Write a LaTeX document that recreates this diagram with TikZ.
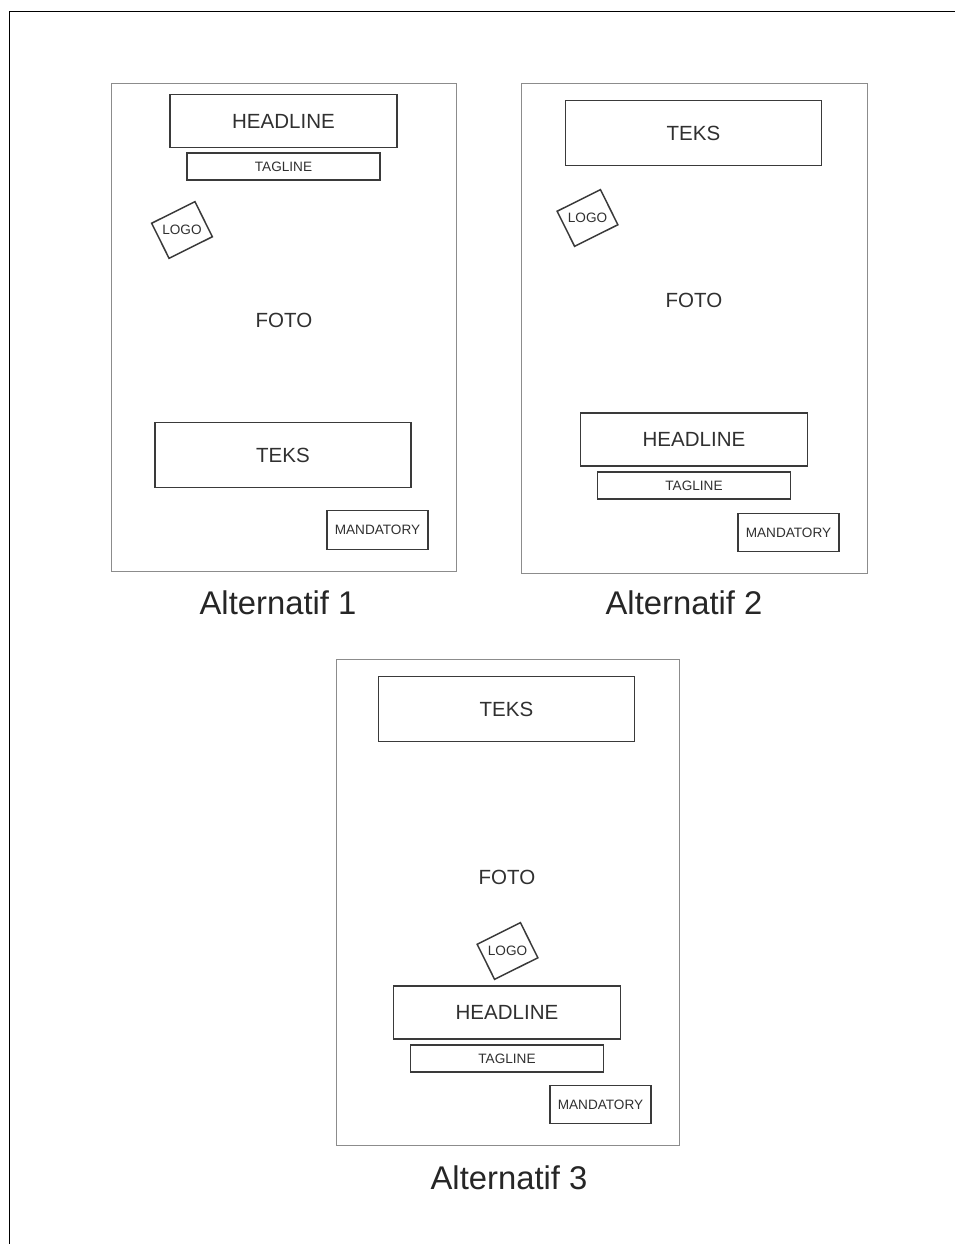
\documentclass[tikz,border=0pt]{standalone}
\usepackage{fontspec}
\setmainfont{Liberation Sans}
\definecolor{pagegray}{HTML}{8C8C8C}
\definecolor{boxgray}{HTML}{3A3A3A}
\definecolor{inkgray}{HTML}{303030}
\newcommand{\pxu}{0.75pt}

\begin{document}
\begin{tikzpicture}[x=\pxu,y=-\pxu,
        page/.style 2 args={draw=pagegray, line width=0.65pt, inner sep=0pt,
            minimum width={#1*\pxu}, minimum height={#2*\pxu}},
        slot/.style={draw=boxgray, line width=1.1pt, inner sep=0pt, text=inkgray},
        bigtext/.style={font=\fontsize{15.4}{17}\selectfont, text=inkgray},
        smalltext/.style={font=\fontsize{10.2}{12}\selectfont},
        headline/.style={slot, bigtext, minimum width={227*\pxu}, minimum height={53*\pxu}},
        tagline/.style={slot, smalltext, minimum width={193*\pxu}, minimum height={27*\pxu}},
        teks/.style={slot, bigtext, minimum width={256*\pxu}, minimum height={65*\pxu}},
        mandatory/.style={slot, smalltext, minimum width={101*\pxu}, minimum height={38.5*\pxu}},
        logo/.style={slot, smalltext, minimum width={48.4*\pxu}, minimum height={39.2*\pxu}, rotate=26.5},
        caption/.style={font=\fontsize{24.6}{28}\selectfont, text=black!85}]

        \useasboundingbox (0,0) rectangle (955,1244);
        \draw [line width=0.9pt] (9.5,1244) -- (9.5,11.5) -- (955,11.5);

        % first layout
        \node [page={345}{488}] (p1) at (283.5,327) {};
        \node [headline] (p1head) at (283.5,121) {HEADLINE};
        \node [tagline] (p1tag) at (283.5,166.5) {TAGLINE};
        \node [logo] (p1logo) at (182,230) {};
        \node [smalltext, text=inkgray] at (p1logo) {LOGO};
        \node [bigtext] (p1foto) at (284,320) {FOTO};
        \node [teks] (p1teks) at (283,455) {TEKS};
        \node [mandatory] (p1mand) at (377.5,530) {MANDATORY};
        \node [caption] (p1cap) at (278,603) {Alternatif 1};

        % second layout
        \node [page={346}{490}] (p2) at (694,328) {};
        \node [teks] (p2teks) at (693.5,133) {TEKS};
        \node [logo] (p2logo) at (587.5,218) {};
        \node [smalltext, text=inkgray] at (p2logo) {LOGO};
        \node [bigtext] (p2foto) at (694,300) {FOTO};
        \node [headline] (p2head) at (694,439.5) {HEADLINE};
        \node [tagline] (p2tag) at (694,485.5) {TAGLINE};
        \node [mandatory] (p2mand) at (788.5,532.5) {MANDATORY};
        \node [caption] (p2cap) at (684,603) {Alternatif 2};

        % third layout
        \node [page={343}{486}] (p3) at (507.5,902) {};
        \node [teks] (p3teks) at (506.5,709) {TEKS};
        \node [bigtext] (p3foto) at (507,877) {FOTO};
        \node [logo] (p3logo) at (507.5,951) {};
        \node [smalltext, text=inkgray] at (p3logo) {LOGO};
        \node [headline] (p3head) at (507,1012.5) {HEADLINE};
        \node [tagline] (p3tag) at (507,1058.5) {TAGLINE};
        \node [mandatory] (p3mand) at (600.5,1104.5) {MANDATORY};
        \node [caption] (p3cap) at (509,1178) {Alternatif 3};
\end{tikzpicture}
\end{document}
